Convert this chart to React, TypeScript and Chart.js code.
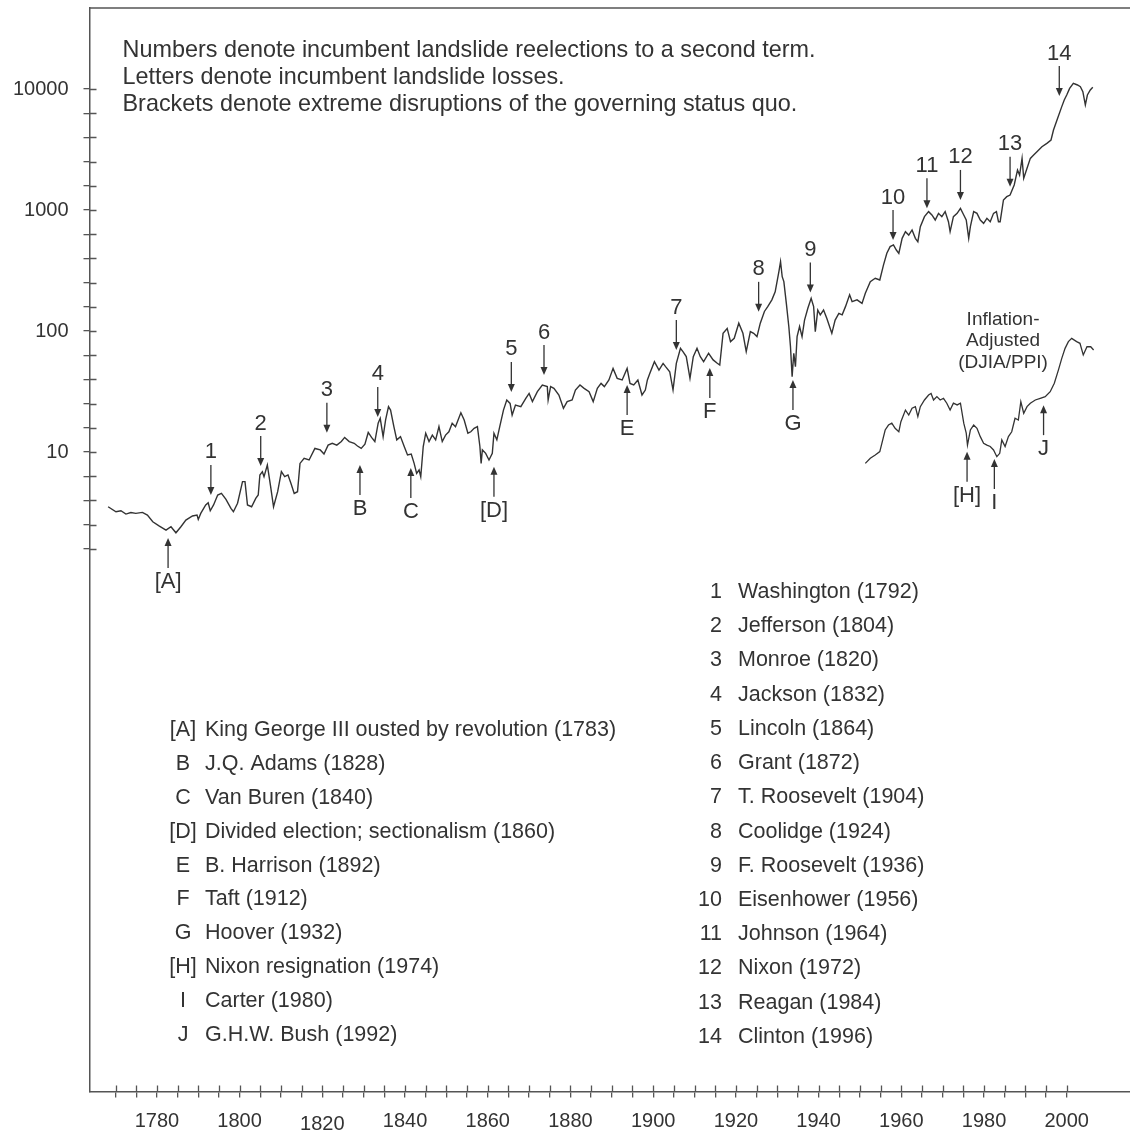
import { useEffect, useRef } from 'react';
import { Chart, registerables } from 'chart.js';

Chart.register(...registerables);

// ---------------- data ----------------
const years = [
  1768.2, 1770.1, 1771.3, 1772.5, 1773.7, 1774.9, 1776.5, 1777.7, 1779.0, 1780.6,
  1782.2, 1783.4, 1784.6, 1785.8, 1787.0, 1788.6, 1789.7, 1790.0, 1790.6, 1791.8,
  1792.4, 1792.9, 1793.7, 1794.7, 1795.6, 1796.7, 1797.9, 1798.5, 1799.5, 1800.7,
  1801.3, 1801.9, 1802.9, 1803.9, 1804.5, 1804.9, 1805.5, 1805.9, 1806.7, 1807.5,
  1808.2, 1809.2, 1810.1, 1810.9, 1811.7, 1812.4, 1813.2, 1814.0, 1814.6, 1815.6,
  1816.8, 1818.2, 1819.5, 1820.4, 1821.4, 1822.4, 1823.5, 1824.6, 1825.4, 1826.5,
  1827.7, 1828.5, 1829.4, 1830.3, 1831.1, 1831.9, 1832.7, 1833.5, 1834.0, 1834.7,
  1835.3, 1836.0, 1836.5, 1837.3, 1838.0, 1838.9, 1839.8, 1840.6, 1841.5, 1842.2,
  1842.8, 1843.4, 1843.8, 1844.4, 1845.0, 1845.8, 1846.6, 1847.4, 1848.2, 1849.0,
  1849.8, 1850.6, 1851.4, 1852.2, 1853.5, 1854.3, 1855.2, 1855.9, 1856.7, 1857.5,
  1858.1, 1858.4, 1858.7, 1859.5, 1860.3, 1861.1, 1861.5, 1862.2, 1862.9, 1863.8,
  1864.6, 1865.4, 1865.9, 1866.7, 1868.0, 1869.2, 1870.0, 1870.8, 1872.0, 1873.2,
  1874.4, 1874.6, 1875.2, 1876.0, 1877.2, 1878.3, 1879.2, 1880.4, 1881.2, 1882.3,
  1883.3, 1884.5, 1885.5, 1886.5, 1887.4, 1888.2, 1889.3, 1890.3, 1891.3, 1892.5,
  1893.7, 1894.4, 1895.3, 1896.3, 1897.3, 1898.1, 1898.6, 1899.2, 1900.3, 1901.4,
  1902.4, 1903.0, 1904.0, 1904.8, 1905.6, 1906.6, 1907.2, 1908.0, 1908.9, 1909.7,
  1910.6, 1911.4, 1912.2, 1913.4, 1914.5, 1915.5, 1916.1, 1916.9, 1917.9, 1918.7,
  1919.6, 1920.7, 1921.7, 1922.5, 1923.5, 1924.3, 1925.1, 1925.9, 1926.9, 1927.7,
  1928.7, 1929.5, 1930.4, 1930.8, 1931.2, 1931.6, 1932.2, 1932.8, 1933.2, 1933.6,
  1934.0, 1934.4, 1934.8, 1935.4, 1936.0, 1936.6, 1937.4, 1938.2, 1938.8, 1939.2,
  1939.8, 1940.4, 1941.2, 1942.0, 1943.2, 1944.0, 1944.9, 1945.7, 1946.5, 1947.5,
  1948.1, 1949.3, 1950.5, 1951.3, 1952.5, 1953.7, 1954.8, 1955.7, 1956.5, 1957.3,
  1958.1, 1958.8, 1959.4, 1960.2, 1961.0, 1961.8, 1962.6, 1963.4, 1964.0, 1964.6,
  1965.6, 1966.6, 1967.4, 1968.2, 1969.0, 1969.8, 1970.6, 1971.4, 1971.8, 1972.6,
  1973.5, 1974.3, 1975.1, 1975.7, 1976.3, 1976.7, 1977.5, 1978.3, 1979.1, 1979.9,
  1980.7, 1981.5, 1982.3, 1983.0, 1983.5, 1983.9, 1984.7, 1985.5, 1986.3, 1987.3,
  1988.1, 1988.6, 1989.2, 1989.6, 1990.4, 1991.2, 1992.0, 1992.8, 1994.0, 1995.2,
  1996.2, 1996.8, 1997.8, 1998.8, 1999.4, 2000.0, 2000.7, 2001.6, 2002.6, 2003.3,
  2003.9, 2004.5, 2005.0, 2005.7, 2006.3,
];

const djia = [
  3.53, 3.21, 3.27, 3.07, 3.16, 3.11, 3.17, 3.01, 2.65, 2.44,
  2.26, 2.41, 2.15, 2.41, 2.74, 2.96, 3.01, 2.77, 3.11, 3.65,
  3.81, 3.27, 3.65, 4.41, 4.55, 4.06, 3.42, 3.21, 3.77, 5.69,
  5.69, 3.65, 3.53, 4.14, 4.41, 6.46, 6.88, 6.25, 7.81, 5.17,
  3.53, 4.70, 6.88, 6.25, 6.46, 5.51, 4.55, 4.70, 8.05, 8.86,
  8.59, 10.7, 10.4, 9.62, 11.4, 11.8, 11.4, 12.2, 13.2, 12.2,
  11.8, 11.2, 10.7, 11.6, 14.5, 13.2, 12.2, 17.3, 19.0, 13.4,
  18.4, 23.7, 22.2, 16.2, 12.6, 13.4, 11.1, 9.44, 9.62, 8.05,
  6.65, 7.10, 6.25, 11.1, 14.3, 12.2, 13.8, 12.6, 16.2, 12.2,
  13.8, 14.7, 17.3, 16.2, 21.1, 18.4, 14.3, 14.7, 15.7, 16.2,
  11.1, 8.05, 10.4, 9.75, 8.59, 9.75, 14.3, 12.6, 16.2, 22.2,
  26.9, 25.2, 20.2, 24.4, 23.7, 27.7, 30.5, 26.1, 31.5, 35.8,
  34.7, 26.9, 34.7, 33.6, 29.6, 23.0, 26.1, 26.9, 32.5, 35.8,
  33.6, 31.5, 26.1, 33.6, 36.9, 34.7, 39.4, 49.1, 40.6, 39.4,
  49.1, 36.9, 35.8, 39.4, 29.6, 32.5, 39.4, 44.7, 55.7, 47.5,
  54.0, 50.8, 46.1, 32.6, 54.0, 71.9, 67.6, 61.4, 40.6, 61.4,
  71.9, 61.4, 55.8, 65.5, 57.7, 54.1, 52.4, 95.7, 105, 81.7,
  87.0, 116, 95.7, 67.6, 98.8, 95.7, 89.9, 116, 145, 159,
  181, 211, 310, 374, 281, 256, 169, 109, 74.3, 42.0,
  65.5, 50.8, 89.9, 109, 89.9, 123, 154, 186, 159, 98.8,
  149, 136, 149, 127, 95.7, 123, 140, 136, 159, 199,
  175, 181, 169, 205, 256, 273, 264, 352, 439, 498,
  514, 467, 438, 583, 662, 621, 684, 583, 547, 728,
  881, 969, 910, 827, 938, 881, 969, 800, 662, 881,
  938, 1032, 910, 827, 583, 728, 969, 938, 827, 776,
  853, 800, 938, 969, 800, 800, 1210, 1288, 1330, 1610,
  2140, 1945, 2670, 1828, 2210, 2670, 2845, 3033, 3337, 3557,
  3787, 4582, 5722, 7150, 8108, 8918, 10118, 11140, 10790, 10450,
  9510, 7380, 8918, 9810, 10320,
];

const realYears = [
  1951.3, 1952.5, 1953.7, 1954.8, 1955.3, 1956.1, 1956.9, 1957.7, 1958.5, 1959.4,
  1959.9, 1961.0, 1961.8, 1962.6, 1963.4, 1964.0, 1964.6, 1965.6, 1966.6, 1967.2,
  1967.8, 1968.6, 1969.4, 1970.2, 1971.0, 1971.8, 1972.6, 1973.5, 1974.3, 1975.1,
  1975.7, 1976.0, 1976.7, 1977.5, 1978.3, 1979.1, 1979.9, 1980.7, 1981.5, 1982.3,
  1983.1, 1983.8, 1984.3, 1985.1, 1985.9, 1986.7, 1987.5, 1988.3, 1988.9, 1989.6,
  1990.4, 1991.2, 1992.4, 1993.6, 1994.8, 1996.0, 1997.0, 1998.0, 1998.8, 1999.6,
  2000.4, 2001.2, 2002.4, 2003.2, 2004.0, 2004.9, 2005.8, 2006.5,
];

const realDjia = [
  8.06, 8.87, 9.45, 10.07, 11.8, 15.2, 16.7, 17.3, 15.7, 14.7,
  17.8, 22.2, 20.2, 23.0, 23.7, 19.6, 23.7, 26.9, 29.6, 30.5,
  26.9, 28.7, 26.9, 27.8, 25.3, 22.2, 25.3, 24.5, 25.3, 17.3,
  14.3, 11.4, 15.2, 16.7, 15.7, 13.4, 11.8, 11.4, 11.1, 10.4,
  9.15, 9.75, 12.6, 11.1, 13.4, 14.7, 19.0, 18.4, 26.1, 20.9,
  23.7, 25.3, 26.9, 27.8, 28.7, 31.5, 37.0, 47.7, 59.4, 71.9,
  81.7, 86.9, 81.7, 79.1, 63.4, 74.1, 74.1, 69.6,
];

const xTickYears = [
  1770, 1775, 1780, 1785, 1790, 1795, 1800, 1805, 1810, 1815, 1820, 1825,
  1830, 1835, 1840, 1845, 1850, 1855, 1860, 1865, 1870, 1875, 1880, 1885,
  1890, 1895, 1900, 1905, 1910, 1915, 1920, 1925, 1930, 1935, 1940, 1945,
  1950, 1955, 1960, 1965, 1970, 1975, 1980, 1985, 1990, 1995, 2000,
];
const xLabelYears = [1780, 1800, 1820, 1840, 1860, 1880, 1900, 1920, 1940, 1960, 1980, 2000];
const yLabelValues = [10, 100, 1000, 10000];

// annotations: label, year of arrow, value at arrow tip, direction
const annoLabels = [
  '1', '2', '3', '4', '5', '6', '7', '8', '9', '10', '11', '12', '13', '14',
  '[A]', 'B', 'C', '[D]', 'E', 'F', 'G', '[H]', 'I', 'J',
];
const annoYears = [
  1793.05, 1805.1, 1821.1, 1833.4, 1865.7, 1873.6, 1905.6, 1925.5, 1938.0, 1958.0,
  1966.2, 1974.3, 1986.3, 1998.2,
  1782.7, 1829.1, 1841.4, 1861.5, 1893.7, 1913.7, 1933.8, 1975.9, 1982.5, 1994.4,
];
const annoTips = [
  4.42, 7.66, 14.4, 19.5, 31.4, 43.3, 69.7, 144, 208, 565,
  1033, 1211, 1560, 8750,
  1.95, 7.82, 7.38, 7.56, 35.8, 49.4, 39.4, 10.05, 8.75, 24.4,
];
const annoDown = [
  true, true, true, true, true, true, true, true, true, true, true, true, true, true,
  false, false, false, false, false, false, false, false, false, false,
];

const noteLines = [
  'Numbers denote incumbent landslide reelections to a second term.',
  'Letters denote incumbent landslide losses.',
  'Brackets denote extreme disruptions of the governing status quo.',
];
const inflationLines = ['Inflation-', 'Adjusted', '(DJIA/PPI)'];
const inflationAnchorYear = 1984.6;
const inflationAnchorValue = 82.6;

const letterKeys = ['[A]', 'B', 'C', '[D]', 'E', 'F', 'G', '[H]', 'I', 'J'];
const letterNames = [
  'King George III ousted by revolution (1783)',
  'J.Q. Adams (1828)',
  'Van Buren (1840)',
  'Divided election; sectionalism (1860)',
  'B. Harrison (1892)',
  'Taft (1912)',
  'Hoover (1932)',
  'Nixon resignation (1974)',
  'Carter (1980)',
  'G.H.W. Bush (1992)',
];
const numberKeys = ['1', '2', '3', '4', '5', '6', '7', '8', '9', '10', '11', '12', '13', '14'];
const numberNames = [
  'Washington (1792)',
  'Jefferson (1804)',
  'Monroe (1820)',
  'Jackson (1832)',
  'Lincoln (1864)',
  'Grant (1872)',
  'T. Roosevelt (1904)',
  'Coolidge (1924)',
  'F. Roosevelt (1936)',
  'Eisenhower (1956)',
  'Johnson (1964)',
  'Nixon (1972)',
  'Reagan (1984)',
  'Clinton (1996)',
];

// ---------------- styles ----------------
const FONT = '"Liberation Sans", Arial, Helvetica, sans-serif';
const INK = '#333333';
const AXIS = '#555555';

const overlayPlugin = {
  id: 'overlay',
  afterDraw(chart: any) {
    const { ctx, chartArea: ca } = chart;
    const xs = chart.scales.x;
    const ys = chart.scales.y;
    ctx.save();

    // top frame line
    ctx.strokeStyle = AXIS;
    ctx.lineWidth = 1.5;
    ctx.beginPath();
    ctx.moveTo(ca.left, ca.top);
    ctx.lineTo(ca.right, ca.top);
    ctx.stroke();

    // inner tick stubs
    ctx.lineWidth = 1.3;
    ctx.beginPath();
    for (const t of ys.ticks) {
      const py = Math.round(ys.getPixelForValue(t.value)) + 0.5;
      ctx.moveTo(ca.left, py);
      ctx.lineTo(ca.left + 7, py);
    }
    for (const t of xs.ticks) {
      const px = Math.round(xs.getPixelForValue(t.value)) + 0.5;
      ctx.moveTo(px, ca.bottom);
      ctx.lineTo(px, ca.bottom - 6);
    }
    ctx.stroke();

    // arrows + labels
    ctx.fillStyle = INK;
    ctx.strokeStyle = INK;
    ctx.textAlign = 'center';
    ctx.textBaseline = 'middle';
    ctx.font = `22px ${FONT}`;
    for (let i = 0; i < annoLabels.length; i++) {
      const px = xs.getPixelForValue(annoYears[i]);
      const tip = ys.getPixelForValue(annoTips[i]);
      const s = annoDown[i] ? -1 : 1;
      const tail = tip + s * 30;
      ctx.lineWidth = 1.3;
      ctx.beginPath();
      ctx.moveTo(px, tail);
      ctx.lineTo(px, tip + s * 6);
      ctx.stroke();
      ctx.beginPath();
      ctx.moveTo(px, tip);
      ctx.lineTo(px - 3.5, tip + s * 8);
      ctx.lineTo(px + 3.5, tip + s * 8);
      ctx.closePath();
      ctx.fill();
      ctx.fillText(annoLabels[i], px, tip + s * (annoDown[i] ? 42.5 : 44));
    }

    // inflation label
    ctx.font = `19px ${FONT}`;
    const ix = xs.getPixelForValue(inflationAnchorYear);
    const iy = ys.getPixelForValue(inflationAnchorValue);
    inflationLines.forEach((t, k) => ctx.fillText(t, ix, iy + (k - 1) * 21.5));

    // top notes
    ctx.textAlign = 'left';
    ctx.font = `23.4px ${FONT}`;
    noteLines.forEach((t, k) => ctx.fillText(t, ca.left + 33, ca.top + 43 + k * 27));

    // legends
    ctx.font = `21.5px ${FONT}`;
    letterKeys.forEach((k, i) => {
      const py = 730 + i * 33.9;
      ctx.textAlign = 'center';
      ctx.fillText(k, 183, py);
      ctx.textAlign = 'left';
      ctx.fillText(letterNames[i], 205, py);
    });
    numberKeys.forEach((k, i) => {
      const py = 592 + i * 34.23;
      ctx.textAlign = 'right';
      ctx.fillText(k, 722, py);
      ctx.textAlign = 'left';
      ctx.fillText(numberNames[i], 738, py);
    });

    ctx.restore();
  },
};

export default function App() {
  const ref = useRef<HTMLCanvasElement | null>(null);

  useEffect(() => {
    if (!ref.current) return;
    Chart.defaults.font.family = FONT;
    const chart = new Chart(ref.current, {
      type: 'line',
      data: {
        datasets: [
          {
            data: years.map((yr, i) => ({ x: yr, y: djia[i] })),
            borderColor: INK,
            borderWidth: 1.4,
            pointRadius: 0,
            tension: 0,
            fill: false,
          },
          {
            data: realYears.map((yr, i) => ({ x: yr, y: realDjia[i] })),
            borderColor: INK,
            borderWidth: 1.3,
            pointRadius: 0,
            tension: 0,
            fill: false,
          },
        ],
      },
      options: {
        animation: false,
        responsive: false,
        events: [],
        layout: { padding: { top: 8, right: 0, left: 0, bottom: 0 } },
        plugins: { legend: { display: false }, tooltip: { enabled: false }, title: { display: false } },
        scales: {
          x: {
            type: 'linear',
            min: 1763.7,
            max: 2015.3,
            afterBuildTicks: (s: any) => {
              s.ticks = xTickYears.map((v) => ({ value: v }));
            },
            afterFit: (s: any) => {
              s.height = 39.5;
              s.paddingLeft = 0;
              s.paddingRight = 0;
            },
            ticks: {
              autoSkip: false,
              maxRotation: 0,
              padding: 12,
              color: INK,
              font: (c: any) => ({
                family: FONT,
                size: 20,
                lineHeight: c.tick && c.tick.value === 1820 ? 1.5 : 1.2,
              }),
              callback: (v: any) => (xLabelYears.includes(Number(v)) ? String(v) : ''),
            },
            grid: { drawOnChartArea: false, tickLength: 6, color: AXIS, lineWidth: 1.3 },
            border: { display: true, color: AXIS, width: 1.5 },
          },
          y: {
            type: 'logarithmic',
            min: 5.19e-5,
            max: 46700,
            afterBuildTicks: (s: any) => {
              const t: any[] = [];
              for (let k = 1; k <= 20; k++) t.push({ value: Math.pow(10, k / 5) });
              s.ticks = t;
            },
            afterFit: (s: any) => {
              s.width = 89.5;
              s.paddingTop = 0;
              s.paddingBottom = 0;
            },
            ticks: {
              autoSkip: false,
              padding: 15,
              color: INK,
              font: { family: FONT, size: 20 },
              callback: (v: any) => {
                const n = Number(v);
                const m = yLabelValues.find((q) => Math.abs(Math.log10(q) - Math.log10(n)) < 1e-6);
                return m ? String(m) : '';
              },
            },
            grid: { drawOnChartArea: false, tickLength: 6, color: AXIS, lineWidth: 1.3 },
            border: { display: true, color: AXIS, width: 1.5 },
          },
        },
      } as any,
      plugins: [overlayPlugin],
    });
    return () => chart.destroy();
  }, []);

  return (
    <div style={{ position: 'absolute', left: 0, top: 0, width: 1130, height: 1131, background: '#fff' }}>
      <canvas ref={ref} width={1130} height={1131} style={{ width: 1130, height: 1131, display: 'block' }} />
    </div>
  );
}
